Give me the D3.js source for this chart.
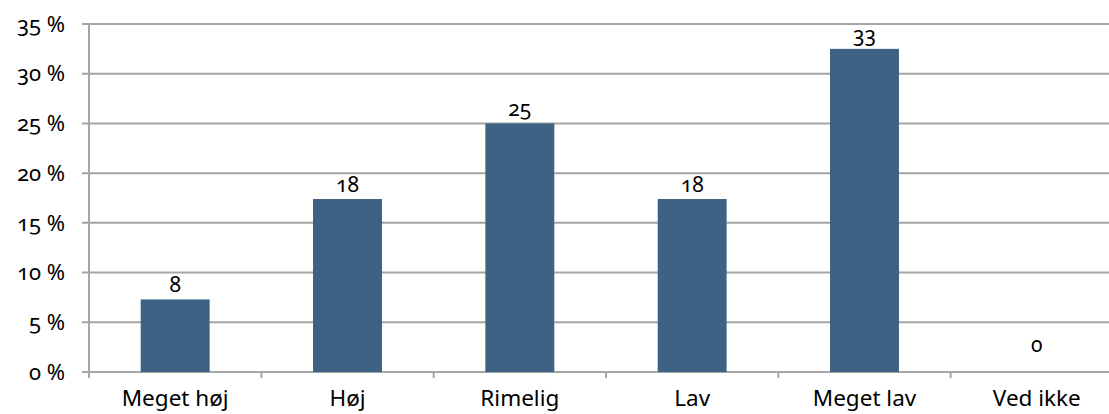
<!DOCTYPE html>
<html><head><meta charset="utf-8">
<script src="https://cdn.jsdelivr.net/npm/d3@7"></script>
<style>
html,body{margin:0;padding:0;background:#fff;overflow:hidden}
text{font-family:"Noto Sans","Open Sans",sans-serif;fill:#000}
.num{font-variant-numeric:oldstyle-nums;font-feature-settings:"onum" 1}
</style></head><body>
<svg id="c" width="1109" height="414"></svg>
<script>
const categories = ["Meget høj","Høj","Rimelig","Lav","Meget lav","Ved ikke"];
const values = [7.3, 17.4, 25.0, 17.4, 32.5, 0];
const labels = ["8","18","25","18","33","0"];
const yTicks = [0,5,10,15,20,25,30,35];

const svg = d3.select("#c");
const x = d3.scaleBand().domain(categories).range([89, 1123]).paddingInner(0.6).paddingOuter(0.3);
const y = d3.scaleLinear().domain([0,35]).range([372, 24]);
const grid = "#a5a5a5";

// gridlines
svg.append("g").selectAll("line").data(yTicks).join("line")
  .attr("x1", 82).attr("x2", 1123)
  .attr("y1", d=>y(d)).attr("y2", d=>y(d))
  .attr("stroke", grid).attr("stroke-width", 2);

// y axis line
svg.append("line").attr("x1",89).attr("x2",89).attr("y1",y(35)).attr("y2",378)
  .attr("stroke", grid).attr("stroke-width", 2);

// x ticks at boundaries
const step = x.step();
svg.append("g").selectAll("line").data(d3.range(1, categories.length+1)).join("line")
  .attr("x1", i=>89+i*step).attr("x2", i=>89+i*step)
  .attr("y1", 372).attr("y2", 378).attr("stroke", grid).attr("stroke-width", 2);

// y tick labels
svg.append("g").selectAll("text").data(yTicks).join("text")
  .attr("class","num")
  .attr("x", 65).attr("y", d=>y(d)).attr("dy","0.35em")
  .attr("text-anchor","end").attr("font-size", 22)
  .text(d=>d+" %");

// bars
svg.append("g").selectAll("rect").data(values).join("rect")
  .attr("x", (d,i)=>x(categories[i])).attr("width", x.bandwidth())
  .attr("y", d=>y(d)).attr("height", d=>y(0)-y(d))
  .attr("fill", "#3e6283");

// data labels
svg.append("g").selectAll("text").data(values).join("text")
  .attr("class","num")
  .attr("x", (d,i)=>x(categories[i])+x.bandwidth()/2)
  .attr("y", d=> d===0 ? y(0)-20 : y(d)-7)
  .attr("text-anchor","middle").attr("font-size", 21)
  .text((d,i)=>labels[i]);

// category labels
svg.append("g").selectAll("text").data(categories).join("text")
  .attr("x", d=>x(d)+x.bandwidth()/2).attr("y", 406)
  .attr("text-anchor","middle").attr("font-size", 22.5)
  .text(d=>d);
</script></body></html>
